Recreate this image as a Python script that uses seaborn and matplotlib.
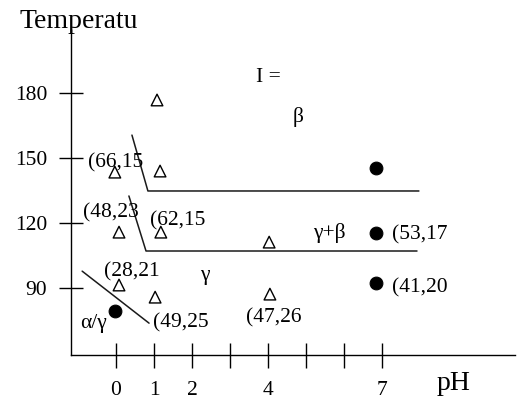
import matplotlib
matplotlib.use("Agg")
import matplotlib.pyplot as plt
import pandas as pd
import seaborn as sns

# Observations: open triangles and filled circles (pH, temperature)
tri_ph = [1.08, -0.03, 1.16, 0.08, 1.18, 0.08, 1.03, 4.03, 4.05]
tri_temp = [176.8, 143.5, 144.0, 115.8, 115.8, 91.4, 85.8, 111.2, 87.2]
dot_ph = [-0.03, 6.84, 6.84, 6.84]
dot_temp = [79.4, 145.4, 115.4, 92.3]

# Phase boundaries
upper_ph = [0.42, 0.84, 7.97]
upper_temp = [160.6, 134.8, 134.8]
middle_ph = [0.34, 0.79, 7.92]
middle_temp = [132.5, 107.1, 107.1]
lower_ph = [-0.89, 0.87]
lower_temp = [97.8, 73.8]

# Axis ticks
x_ticks = [0, 1, 2, 3, 4, 5, 6, 7]
x_tick_labels = ["0", "1", "2", "", "4", "", "", "7"]
y_ticks = [90, 120, 150, 180]
y_tick_labels = ["90", "120", "150", "180"]

# Point annotations
note_text = ["(66,15", "(48,23", "(62,15", "(28,21", "(49,25", "(47,26", "(53,17", "(41,20"]
note_ph = [-0.74, -0.87, 0.89, -0.32, 0.97, 3.42, 7.26, 7.26]
note_temp = [147.7, 124.6, 120.9, 97.4, 73.8, 76.2, 114.5, 90.0]

# Region labels
region_text = ["I =", "β", "γ+β", "γ", "α/γ"]
region_ph = [3.68, 4.79, 5.61, 2.34, -0.95]
region_temp = [187.4, 168.9, 115.4, 96.0, 73.8]
region_ha = ["left", "center", "center", "center", "left"]

sns.set_theme(style="white")
plt.rcParams["font.family"] = ["Liberation Serif", "DejaVu Serif"]
plt.rcParams["text.color"] = "black"

fig = plt.figure(figsize=(5.2, 4.01), dpi=100)
ax = fig.add_axes([0.1365, 0.1147, 0.854, 0.8105])

tri = pd.DataFrame({"pH": tri_ph, "T": tri_temp})
dots = pd.DataFrame({"pH": dot_ph, "T": dot_temp})
sns.scatterplot(data=tri, x="pH", y="T", marker="^", s=70,
                facecolors="none", edgecolor="black", linewidth=1.0, ax=ax)
sns.scatterplot(data=dots, x="pH", y="T", marker="o", s=85,
                color="black", edgecolor="black", ax=ax)

for xs, ys in [(upper_ph, upper_temp), (middle_ph, middle_temp), (lower_ph, lower_temp)]:
    line = pd.DataFrame({"pH": xs, "T": ys})
    sns.lineplot(data=line, x="pH", y="T", sort=False, estimator=None,
                 color="#1a1a1a", linewidth=1.1, ax=ax)

for t, x, y in zip(note_text, note_ph, note_temp):
    ax.text(x, y, t, fontsize=15.5, ha="left", va="center", color="black")
for t, x, y, ha in zip(region_text, region_ph, region_temp, region_ha):
    ax.text(x, y, t, fontsize=15.5, ha=ha, va="center", color="black")

ax.set_xlim(-1.184, 10.5)
ax.set_ylim(59.1, 209.1)
ax.set_xticks(x_ticks)
ax.set_xticklabels(x_tick_labels)
ax.set_yticks(y_ticks)
ax.set_yticklabels(y_tick_labels)
ax.tick_params(axis="x", bottom=True, direction="inout", length=18, width=1.0,
               pad=9.5, labelsize=15.5, colors="black")
ax.tick_params(axis="y", left=True, direction="inout", length=17, width=1.0,
               pad=8.5, labelsize=15.5, colors="black")
ax.set_xlabel("")
ax.set_ylabel("")

sns.despine(ax=ax)
for side in ["left", "bottom"]:
    ax.spines[side].set_color("black")
    ax.spines[side].set_linewidth(1.0)

fig.text(20 / 520, 1 - 22 / 401, "Temperatu", fontsize=20, ha="left", va="center",
         color="black")
fig.text(437 / 520, 1 - 383 / 401, "pH", fontsize=20, ha="left", va="center",
         color="black")

fig.savefig("out.png", dpi=100)
